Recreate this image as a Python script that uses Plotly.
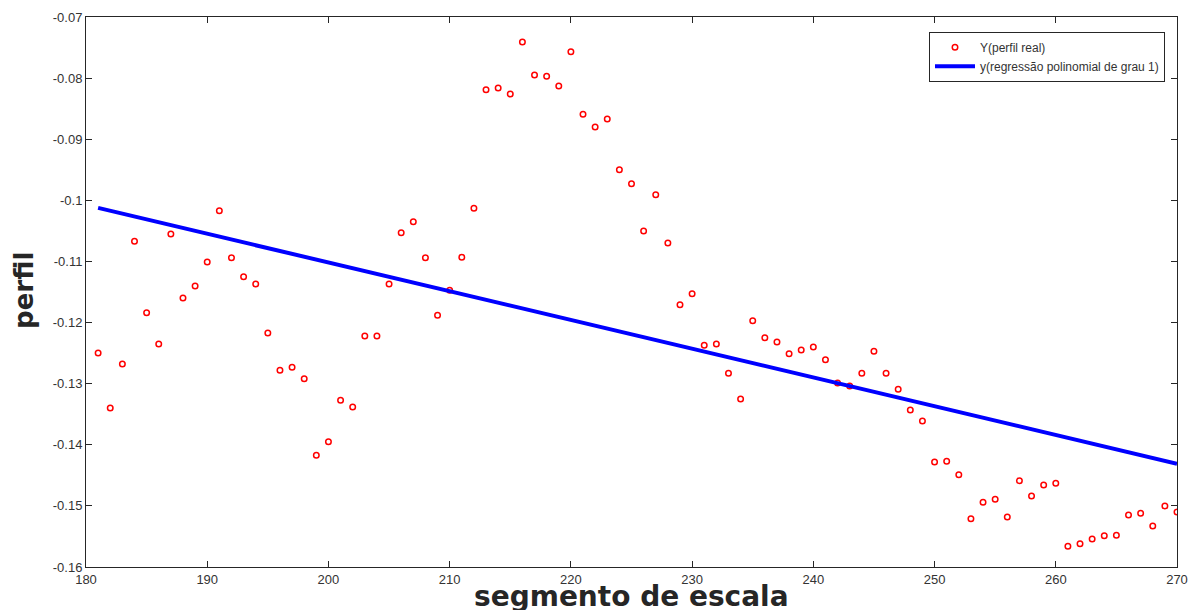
import numpy as np
import plotly.graph_objects as go

x_vals = list(range(181, 271))
y_vals = [
    -0.1250, -0.1340, -0.1268, -0.1067, -0.1184, -0.1235, -0.1055, -0.1160, -0.1140, -0.1101,
    -0.1017, -0.1094, -0.1125, -0.1137, -0.1217, -0.1278, -0.1273, -0.1292, -0.1417, -0.1395,
    -0.1327, -0.1338, -0.1222, -0.1222, -0.1137, -0.1053, -0.1035, -0.1094, -0.1188, -0.1147,
    -0.1093, -0.1013, -0.0819, -0.0816, -0.0826, -0.0741, -0.0795, -0.0797, -0.0813, -0.0757,
    -0.0859, -0.0880, -0.0867, -0.0950, -0.0973, -0.1050, -0.0991, -0.1070, -0.1171, -0.1153,
    -0.1237, -0.1235, -0.1283, -0.1325, -0.1197, -0.1225, -0.1232, -0.1251, -0.1245, -0.1240,
    -0.1261, -0.1299, -0.1304, -0.1283, -0.1247, -0.1283, -0.1309, -0.1343, -0.1361, -0.1428,
    -0.1427, -0.1449, -0.1521, -0.1494, -0.1489, -0.1518, -0.1459, -0.1484, -0.1466, -0.1463,
    -0.1566, -0.1562, -0.1554, -0.1549, -0.1548, -0.1515, -0.1512, -0.1533, -0.1500, -0.1510,
]
x_ticks = [180, 190, 200, 210, 220, 230, 240, 250, 260, 270]
y_ticks = [-0.07, -0.08, -0.09, -0.1, -0.11, -0.12, -0.13, -0.14, -0.15, -0.16]
y_tick_text = ["-0.07", "-0.08", "-0.09", "-0.1", "-0.11", "-0.12", "-0.13", "-0.14", "-0.15", "-0.16"]

coef = np.polyfit(x_vals, y_vals, 1)
fit_y = np.polyval(coef, x_vals)

fig = go.Figure()
fig.add_trace(go.Scatter(
    x=x_vals, y=y_vals, mode="markers", name="Y(perfil real)",
    marker=dict(symbol="circle-open", size=5.5, color="#ff0000", line=dict(width=1.5, color="#ff0000")),
))
fig.add_trace(go.Scatter(
    x=x_vals, y=fit_y, mode="lines", name="y(regressão polinomial de grau 1)",
    line=dict(color="#0000ff", width=4),
))

axis_common = dict(
    showgrid=False, zeroline=False, showline=True, linecolor="#262626", linewidth=1,
    mirror="ticks", ticks="inside", ticklen=6, tickcolor="#262626",
    tickfont=dict(family="Liberation Sans, Arial", size=13, color="#333333"),
)
fig.update_xaxes(range=[180, 270], tickvals=x_ticks, **axis_common)
fig.update_yaxes(range=[-0.16, -0.07], tickvals=y_ticks, ticktext=y_tick_text, **axis_common)

fig.update_layout(
    width=1190, height=602,
    margin=dict(l=78, r=21, t=9, b=43, autoexpand=False),
    paper_bgcolor="white", plot_bgcolor="white",
    showlegend=True,
    legend=dict(x=0.989, y=0.973, xanchor="right", yanchor="top",
                bgcolor="white", bordercolor="#262626", borderwidth=1,
                font=dict(family="Liberation Sans, Arial", size=12, color="#333333"),
                tracegroupgap=0, itemwidth=40),
    annotations=[
        dict(text="<b>segmento de escala</b>", x=0.5, y=-0.0545, xref="paper", yref="paper",
             xanchor="center", yanchor="middle", showarrow=False,
             font=dict(family="DejaVu Sans", size=28, color="#262626")),
        dict(text="<b>perfil</b>", x=-0.0568, y=0.502, xref="paper", yref="paper",
             xanchor="center", yanchor="middle", showarrow=False, textangle=-90,
             font=dict(family="DejaVu Sans", size=26, color="#262626")),
    ],
)

fig.write_html("out.html")
